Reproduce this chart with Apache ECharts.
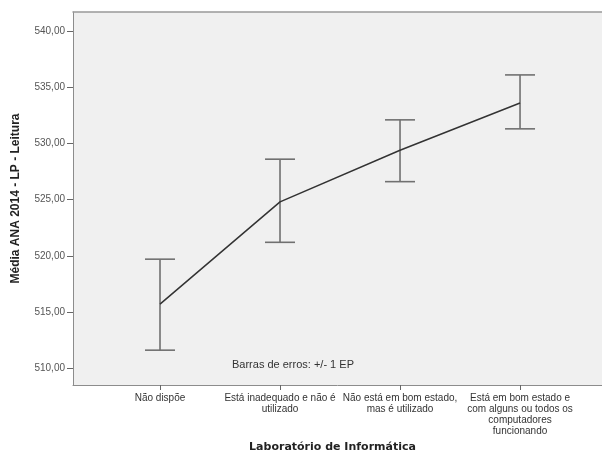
<!DOCTYPE html>
<html>
<head>
<meta charset="utf-8">
<script src="https://cdn.jsdelivr.net/npm/echarts@6/dist/echarts.min.js"></script>
<style>html,body{margin:0;padding:0;background:#fff}#c{width:602px;height:459px}</style>
</head>
<body>
<div id="c"></div>
<script>
var categories = ['Não dispõe', 'Está inadequado e não é\nutilizado', 'Não está em bom estado,\nmas é utilizado', 'Está em bom estado e\ncom alguns ou todos os\ncomputadores\nfuncionando'];
var positions = [1, 2, 3, 4];
var means = [515.7, 524.8, 529.4, 533.6];
var lower = [511.6, 521.2, 526.6, 531.3];
var upper = [519.7, 528.6, 532.1, 536.1];
var yTicks = [510, 515, 520, 525, 530, 535, 540];

var chart = echarts.init(document.getElementById('c'));
var lineData = positions.map(function (p, i) { return [p, means[i]]; });
var errData = positions.map(function (p, i) { return [p, lower[i], upper[i]]; });

chart.setOption({
  animation: false,
  grid: {
    left: 73, right: 0, top: 12, bottom: 74,
    show: true, backgroundColor: '#f0f0f0', borderWidth: 0
  },
  xAxis: [{
    type: 'value', min: 0.275, max: 4.683,
    name: 'Laboratório de Informática', nameLocation: 'middle', nameGap: 57,
    nameTextStyle: { fontFamily: 'DejaVu Sans', fontWeight: 'bold', fontSize: 11, color: '#222', padding: [0, 10, 0, 0] },
    splitLine: { show: false },
    axisLine: { show: true, lineStyle: { color: '#8c8c8c', width: 1 } },
    axisTick: { show: true, customValues: positions, length: 5, lineStyle: { color: '#666' } },
    axisLabel: {
      customValues: positions, margin: 8, fontFamily: 'Liberation Sans', fontSize: 10, color: '#333', lineHeight: 11,
      formatter: function (v) { return categories[Math.round(v) - 1]; }
    }
  }, {
    type: 'value', position: 'top', min: 0.275, max: 4.683,
    splitLine: { show: false },
    axisLine: { show: true, lineStyle: { color: '#999', width: 1.5 } },
    axisTick: { show: false }, axisLabel: { show: false }
  }],
  yAxis: {
    type: 'value', min: 508.5, max: 541.7,
    name: 'Média ANA 2014 - LP - Leitura', nameLocation: 'middle', nameGap: 51,
    nameTextStyle: { fontFamily: 'Liberation Sans', fontWeight: 'bold', fontSize: 12, color: '#222' },
    splitLine: { show: false },
    axisLine: { show: true, lineStyle: { color: '#8c8c8c', width: 1 } },
    axisTick: { show: true, customValues: yTicks, length: 6, lineStyle: { color: '#666' } },
    axisLabel: {
      customValues: yTicks, margin: 8, fontFamily: 'Liberation Sans', fontSize: 10, color: '#555',
      formatter: function (v) { return v.toFixed(2).replace('.', ','); }
    }
  },
  graphic: [{
    type: 'text', left: 232, top: 359,
    style: { text: 'Barras de erros: +/- 1 EP', font: '11px "Liberation Sans"', fill: '#333' }
  }],
  series: [
    {
      type: 'custom', data: errData, z: 2,
      renderItem: function (params, api) {
        var x = api.value(0);
        var lo = api.coord([x, api.value(1)]);
        var hi = api.coord([x, api.value(2)]);
        var hw = 15;
        var st = { stroke: '#707070', lineWidth: 1.6 };
        return {
          type: 'group', children: [
            { type: 'line', shape: { x1: lo[0], y1: lo[1], x2: hi[0], y2: hi[1] }, style: st },
            { type: 'line', shape: { x1: lo[0] - hw, y1: lo[1], x2: lo[0] + hw, y2: lo[1] }, style: st },
            { type: 'line', shape: { x1: hi[0] - hw, y1: hi[1], x2: hi[0] + hw, y2: hi[1] }, style: st }
          ]
        };
      }
    },
    {
      type: 'line', data: lineData, z: 3, symbol: 'none',
      lineStyle: { color: '#333', width: 1.5 }
    }
  ]
});
</script>
</body>
</html>
